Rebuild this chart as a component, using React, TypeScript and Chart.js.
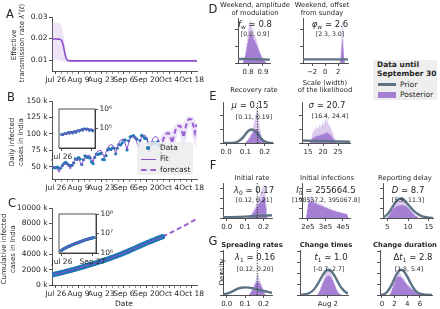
import React, { useEffect, useRef } from "react";
import { Chart, registerables } from "chart.js";

Chart.register(...registerables);

/* ====================== DATA ====================== */
// x values are days after 26 July 2020
const dateTickDays = [0, 14, 28, 42, 56, 70, 84];
const dateTickLabels = ["Jul 26", "Aug 9", "Aug 23", "Sep 6", "Sep 20", "Oct 4", "Oct 18"];
const firstDataDay = -2; // Jul 24
const forecastFirstDay = 66; // Sep 30

// Panel A: effective transmission rate
const lambdaDays = [-2.4, 0, 2, 3, 3.5, 4, 4.5, 5, 5.5, 6, 6.5, 7, 8, 10, 30, 60, 87.3];
const lambdaMedian = [0.0198, 0.0198, 0.0197, 0.0195, 0.0191, 0.0183, 0.017, 0.0152, 0.0133, 0.0117, 0.0106, 0.01, 0.0097, 0.0096, 0.0096, 0.0096, 0.0096];
const lambdaUpper = [0.0275, 0.0275, 0.0272, 0.0266, 0.0258, 0.0245, 0.0225, 0.02, 0.0172, 0.0146, 0.0127, 0.0114, 0.0105, 0.0102, 0.0101, 0.0101, 0.0101];
const lambdaLower = [0.0099, 0.0099, 0.0099, 0.0098, 0.0097, 0.0096, 0.0094, 0.0093, 0.0092, 0.0091, 0.009, 0.009, 0.009, 0.009, 0.0091, 0.0091, 0.0091];
const lambdaTicks = [0.01, 0.02, 0.03];

// Panel B: daily cases (thousands), Jul 24 .. Sep 30
const dailyCasesK = [49.3, 48.9, 48.7, 49.9, 47.7, 48.5, 52.1, 55.1, 57.1, 54.7, 53.0, 52.1, 52.5, 56.3, 62.5, 61.5, 64.4, 62.1, 53.6, 61.0, 67.0, 64.6, 65.0, 63.5, 58.0, 55.1, 64.5, 69.7, 68.9, 69.9, 70.5, 61.4, 61.0, 67.2, 75.8, 77.3, 76.5, 78.8, 78.5, 69.9, 78.4, 83.9, 83.3, 86.4, 90.6, 90.8, 75.8, 89.7, 95.7, 96.6, 97.6, 94.4, 92.1, 83.8, 90.1, 97.9, 96.4, 93.3, 92.6, 87.0, 75.1, 83.3, 86.5, 86.1, 85.4, 88.6, 82.2, 70.6, 80.5];
const dailyFitK = [49.4, 49.9, 49.4, 46.3, 42.0, 47.6, 51.8, 54.1, 54.8, 54.6, 51.3, 46.8, 53.2, 58.1, 60.9, 62.0, 61.8, 57.8, 52.4, 59.3, 64.5, 67.2, 68.0, 67.6, 63.3, 57.5, 65.2, 71.0, 74.1, 75.2, 74.8, 70.1, 63.8, 72.4, 78.9, 82.5, 83.8, 83.4, 78.0, 70.7, 80.1, 87.1, 90.8, 91.9, 91.2, 84.8, 76.5, 86.1, 93.0, 96.3, 96.7, 95.3, 88.2, 79.1, 88.5, 95.2, 98.1, 98.2, 95.3, 87.4, 77.8, 86.6, 92.8, 95.6, 95.8, 94.2, 87.4, 78.6, 88.4];
const dailyForecastK = [88.4, 95.9, 99.8, 101.3, 100.9, 94.5, 85.9, 97.4, 106.1, 110.8, 112.4, 111.8, 104.5, 94.8, 107.4, 116.8, 121.8, 122.9, 121.5, 113.1, 102.0, 115.0];
const dailyTicksK = [50, 75, 100, 125, 150];

// Panel C: cumulative cases (thousands), Jul 24 .. Sep 30
const cumulativeK = [1337, 1386, 1435, 1485, 1532, 1581, 1633, 1688, 1745, 1800, 1853, 1905, 1957, 2014, 2076, 2138, 2202, 2264, 2318, 2379, 2446, 2510, 2575, 2639, 2697, 2752, 2816, 2886, 2955, 3025, 3095, 3157, 3218, 3285, 3361, 3438, 3515, 3594, 3672, 3742, 3820, 3904, 3988, 4074, 4165, 4256, 4331, 4421, 4517, 4613, 4711, 4805, 4897, 4981, 5071, 5169, 5266, 5359, 5452, 5539, 5614, 5697, 5784, 5870, 5955, 6044, 6126, 6197, 6277];
const cumFitDays = [-2, 4, 11, 18, 25, 32, 39, 46, 53, 60, 66];
const cumFitK = [1337, 1633, 2014, 2446, 2886, 3361, 3904, 4517, 5169, 5784, 6277];
const cumForecastDays = [66, 69, 72, 75, 78, 81, 84, 87];
const cumForecastK = [6277, 6590, 6890, 7210, 7550, 7880, 8230, 8570];
const cumTicksK = [0, 2000, 4000, 6000, 8000, 10000];

// D: weekend amplitude f_w
const fwBinStart = 0.765, fwBinWidth = 0.005;
const fwLight = [0.04, 0.08, 0.13, 0.2, 0.3, 0.45, 0.6, 0.75, 0.9, 0.96, 0.85, 0.92, 0.8, 0.7, 0.75, 0.65, 0.6, 0.55, 0.5, 0.45, 0.4, 0.33, 0.28, 0.22, 0.18, 0.14, 0.11, 0.08, 0.06, 0.04, 0.02, 0.01];
const fwDark = [0.03, 0.06, 0.1, 0.17, 0.26, 0.36, 0.45, 0.53, 0.58, 0.62, 0.63, 0.62, 0.6, 0.57, 0.54, 0.51, 0.48, 0.44, 0.4, 0.36, 0.32, 0.28, 0.24, 0.2, 0.16, 0.13, 0.1, 0.07, 0.05, 0.04, 0.02, 0.01];
const fwPriorX = [0.733, 0.84, 0.947];
const fwPriorY = [0.09, 0.085, 0.075];
// D: weekend offset phi_w
const phiBinStart = 2.2, phiBinWidth = 0.05;
const phiLight = [0.02, 0.05, 0.1, 0.18, 0.3, 0.45, 0.62, 0.8, 0.96, 0.9, 0.75, 0.55, 0.35, 0.2, 0.1, 0.05, 0.02, 0.01];
const phiDark = [0.01, 0.03, 0.06, 0.1, 0.17, 0.25, 0.35, 0.45, 0.52, 0.5, 0.42, 0.32, 0.22, 0.13, 0.07, 0.03, 0.01, 0.005];
const phiPriorX = [-3.4, 3.5];
const phiPriorY = [0.08, 0.08];
// E: recovery rate mu
const muBinStart = 0.1, muBinWidth = 0.005;
const muLight = [0.03, 0.05, 0.08, 0.12, 0.16, 0.22, 0.28, 0.35, 0.45, 0.55, 0.7, 0.8, 0.75, 0.6, 0.45, 0.32, 0.2, 0.12, 0.07, 0.03];
const muDark = [0.02, 0.04, 0.06, 0.09, 0.12, 0.16, 0.2, 0.24, 0.28, 0.31, 0.33, 0.34, 0.33, 0.3, 0.26, 0.2, 0.14, 0.09, 0.05, 0.02];
const muPriorX = [-0.016, 0.03, 0.05, 0.07, 0.09, 0.1, 0.11, 0.12, 0.13, 0.14, 0.15, 0.16, 0.17, 0.18, 0.19, 0.2, 0.22, 0.243];
const muPriorY = [0, 0.003, 0.015, 0.06, 0.15, 0.21, 0.27, 0.31, 0.33, 0.32, 0.29, 0.24, 0.18, 0.12, 0.07, 0.04, 0.01, 0];
const muMarker = 0.163;
// E: likelihood scale sigma
const sigBinStart = 15.5, sigBinWidth = 0.25;
const sigLight = [0.03, 0.07, 0.13, 0.2, 0.26, 0.3, 0.34, 0.3, 0.36, 0.4, 0.38, 0.33, 0.4, 0.45, 0.42, 0.38, 0.46, 0.5, 0.44, 0.48, 0.55, 0.6, 0.5, 0.58, 0.52, 0.45, 0.42, 0.4, 0.36, 0.32, 0.27, 0.22, 0.17, 0.12, 0.08, 0.05, 0.03, 0.01];
const sigDark = [0.01, 0.03, 0.06, 0.09, 0.12, 0.13, 0.15, 0.14, 0.16, 0.17, 0.18, 0.17, 0.18, 0.19, 0.2, 0.19, 0.2, 0.22, 0.21, 0.23, 0.24, 0.25, 0.24, 0.26, 0.25, 0.23, 0.22, 0.2, 0.18, 0.16, 0.13, 0.11, 0.08, 0.06, 0.04, 0.02, 0.01, 0.005];
const sigPriorX = [13, 21, 29];
const sigPriorY = [0.06, 0.045, 0.03];
// F: initial rate lambda_0
const l0BinStart = 0.12, l0BinWidth = 0.005;
const l0Light = [0.04, 0.07, 0.1, 0.14, 0.2, 0.25, 0.3, 0.35, 0.42, 0.5, 0.55, 0.62, 0.7, 0.78, 0.85, 0.9, 0.95, 0.8, 0.4, 0.07];
const l0Dark = [0.03, 0.05, 0.08, 0.11, 0.15, 0.18, 0.22, 0.26, 0.3, 0.34, 0.38, 0.42, 0.46, 0.5, 0.55, 0.58, 0.6, 0.55, 0.3, 0.05];
const l0PriorX = [-0.02, 0.1, 0.245];
const l0PriorY = [0.02, 0.04, 0.08];
const l0Marker = 0.165;
// F: initial infections I_0 (units of 1e5)
const i0BinStart = 1.9, i0BinWidth = 0.05;
const i0Light = [0.15, 0.35, 0.55, 0.6, 0.65, 0.58, 0.62, 0.55, 0.5, 0.52, 0.48, 0.47, 0.45, 0.42, 0.44, 0.4, 0.39, 0.38, 0.37, 0.35, 0.36, 0.33, 0.32, 0.31, 0.3, 0.28, 0.29, 0.27, 0.25, 0.25, 0.24, 0.22, 0.23, 0.21, 0.2, 0.19, 0.2, 0.18, 0.17, 0.17, 0.16, 0.15, 0.15, 0.14, 0.14, 0.12, 0.11, 0.06];
const i0Dark = [0.1, 0.25, 0.4, 0.45, 0.46, 0.47, 0.46, 0.45, 0.44, 0.43, 0.42, 0.41, 0.4, 0.38, 0.37, 0.36, 0.35, 0.34, 0.33, 0.32, 0.31, 0.3, 0.29, 0.28, 0.27, 0.26, 0.25, 0.24, 0.23, 0.22, 0.21, 0.2, 0.2, 0.19, 0.18, 0.17, 0.17, 0.16, 0.15, 0.15, 0.14, 0.13, 0.13, 0.12, 0.12, 0.11, 0.1, 0.05];
// F: reporting delay D
const dBinStart = 5, dBinWidth = 0.25;
const dLight = [0.04, 0.08, 0.13, 0.2, 0.27, 0.33, 0.38, 0.42, 0.45, 0.5, 0.48, 0.52, 0.55, 0.5, 0.53, 0.48, 0.45, 0.43, 0.4, 0.37, 0.33, 0.29, 0.24, 0.2, 0.16, 0.12, 0.09, 0.07, 0.04, 0.02];
const dDark = [0.03, 0.06, 0.1, 0.15, 0.2, 0.25, 0.28, 0.3, 0.32, 0.34, 0.35, 0.36, 0.36, 0.37, 0.37, 0.36, 0.35, 0.34, 0.32, 0.3, 0.27, 0.24, 0.2, 0.17, 0.14, 0.11, 0.08, 0.06, 0.04, 0.02];
const dPriorX = [4, 4.5, 5, 5.5, 6, 6.5, 7, 7.5, 8, 8.5, 9, 9.5, 10, 10.5, 11, 11.5, 12, 13, 14, 15, 16];
const dPriorY = [0.02, 0.05, 0.1, 0.17, 0.26, 0.36, 0.45, 0.52, 0.55, 0.55, 0.52, 0.46, 0.39, 0.32, 0.25, 0.19, 0.14, 0.07, 0.03, 0.01, 0];
// G: spreading rate lambda_1
const l1BinStart = 0.12, l1BinWidth = 0.005;
const l1Light = [0.03, 0.05, 0.09, 0.13, 0.18, 0.23, 0.28, 0.33, 0.4, 0.48, 0.45, 0.36, 0.3, 0.24, 0.18, 0.12, 0.06, 0.03];
const l1Dark = [0.02, 0.04, 0.07, 0.1, 0.14, 0.18, 0.22, 0.26, 0.28, 0.3, 0.29, 0.27, 0.24, 0.2, 0.15, 0.1, 0.05, 0.02];
const l1PriorX = [-0.02, 0, 0.02, 0.04, 0.06, 0.08, 0.1, 0.12, 0.14, 0.16, 0.18, 0.2, 0.22, 0.245];
const l1PriorY = [0.01, 0.03, 0.06, 0.1, 0.14, 0.16, 0.17, 0.165, 0.15, 0.13, 0.11, 0.09, 0.07, 0.05];
const l1Marker = 0.165;
// G: change time t_1 (days from Aug 2)
const t1BinStart = -3.5, t1BinWidth = 0.25;
const t1Light = [0.03, 0.05, 0.09, 0.13, 0.18, 0.23, 0.28, 0.33, 0.38, 0.44, 0.48, 0.52, 0.55, 0.58, 0.56, 0.55, 0.52, 0.5, 0.46, 0.42, 0.37, 0.32, 0.27, 0.22, 0.18, 0.14, 0.1, 0.07, 0.05, 0.03, 0.02, 0.01];
const t1Dark = [0.02, 0.04, 0.07, 0.1, 0.14, 0.18, 0.22, 0.26, 0.3, 0.33, 0.36, 0.39, 0.41, 0.42, 0.43, 0.43, 0.42, 0.4, 0.38, 0.35, 0.32, 0.28, 0.24, 0.2, 0.16, 0.12, 0.09, 0.06, 0.04, 0.03, 0.02, 0.01];
const t1PriorX = [-9.3, -8, -7, -6, -5, -4, -3, -2, -1, 0, 1, 2, 3, 4, 5, 6, 6.7];
const t1PriorY = [0.002, 0.01, 0.025, 0.05, 0.1, 0.18, 0.29, 0.41, 0.51, 0.56, 0.54, 0.45, 0.33, 0.21, 0.12, 0.06, 0.035];
// G: change duration Delta t_1
const dtBinStart = 1.2, dtBinWidth = 0.2;
const dtLight = [0.04, 0.12, 0.22, 0.35, 0.48, 0.55, 0.5, 0.53, 0.47, 0.44, 0.4, 0.35, 0.3, 0.27, 0.23, 0.2, 0.17, 0.14, 0.12, 0.1, 0.08, 0.06, 0.04, 0.03, 0.01];
const dtDark = [0.03, 0.08, 0.15, 0.25, 0.33, 0.38, 0.4, 0.41, 0.4, 0.38, 0.35, 0.31, 0.27, 0.24, 0.21, 0.18, 0.15, 0.13, 0.11, 0.09, 0.07, 0.05, 0.04, 0.02, 0.01];
const dtPriorX = [-0.3, 0, 0.5, 1, 1.5, 2, 2.5, 3, 3.5, 4, 4.5, 5, 5.5, 6, 7, 7.9];
const dtPriorY = [0, 0.005, 0.03, 0.1, 0.22, 0.37, 0.5, 0.56, 0.52, 0.41, 0.27, 0.15, 0.07, 0.03, 0.005, 0];

/* ====================== STYLE ====================== */
const FONT = "'DejaVu Sans', sans-serif";
const INK = "#262626";
const PURPLE = "#8c4fc8";
const BLUE = "#1f77b4";
const PRIOR_C = "#5d7386";
const POST_DARK = "#a57fd4";
const POST_LIGHT = "#dbcaee";
const X_MIN = -2.4;
const X_MAX = 87.3;

const M_MAIN = { l: 52, t: 8, r: 16, b: 16 };
const M_INSET = { l: 22, t: 6, r: 18, b: 13 };
const M_HIST = { l: 5, t: 4, r: 10, b: 14 };

/* ====================== HELPERS ====================== */
const dayPts = (vals: number[], start: number, mult = 1) => vals.map((v, i) => ({ x: start + i, y: v * mult }));
const xyPts = (xs: number[], ys: number[]) => xs.map((x, i) => ({ x, y: ys[i] }));
const histPts = (start: number, w: number, hs: number[]) => {
  const p = hs.map((h, i) => ({ x: start + i * w, y: h }));
  p.push({ x: start + hs.length * w, y: 0 });
  return p;
};
const SUP: Record<number, string> = { 4: "\u2074", 5: "\u2075", 6: "\u2076", 7: "\u2077", 8: "\u2078" };

const gridStyle = (minorOf?: number[]) => ({
  display: true,
  drawOnChartArea: false,
  drawTicks: true,
  tickLength: 3,
  color: INK,
  tickColor: INK,
  lineWidth: (c: any) => (minorOf && c.tick && !minorOf.includes(c.tick.value) ? 0.5 : 0.8),
});
const borderStyle = { display: true, color: INK, width: 0.8 };

function fixedAxis(min: number, max: number, ticks: number[], fmt: (v: number) => string, size = 7.5, extra: any = {}) {
  return {
    type: "linear",
    min,
    max,
    afterBuildTicks: (s: any) => {
      s.ticks = ticks.map((v) => ({ value: v }));
    },
    ticks: { font: { family: FONT, size }, color: INK, padding: 1.5, autoSkip: false, maxRotation: 0, minRotation: 0, callback: (v: number) => fmt(v) },
    grid: gridStyle(),
    border: borderStyle,
    ...extra,
  };
}

function dateAxis() {
  const all: number[] = [];
  for (let d = 0; d <= X_MAX; d += 3.5) all.push(d);
  return {
    type: "linear",
    min: X_MIN,
    max: X_MAX,
    afterBuildTicks: (s: any) => {
      s.ticks = all.map((v) => ({ value: v }));
    },
    ticks: {
      font: { family: FONT, size: 7.5 },
      color: INK,
      padding: 1.5,
      autoSkip: false,
      maxRotation: 0,
      minRotation: 0,
      callback: (v: number) => {
        const i = dateTickDays.indexOf(v);
        return i >= 0 ? dateTickLabels[i] : "";
      },
    },
    grid: gridStyle(dateTickDays),
    border: borderStyle,
  };
}

const insetFrame = {
  id: "insetFrame",
  beforeDraw(chart: any) {
    const { ctx, chartArea: a } = chart;
    ctx.save();
    ctx.fillStyle = "#ffffff";
    ctx.fillRect(a.left, a.top, a.right - a.left, a.bottom - a.top);
    ctx.restore();
  },
  afterDraw(chart: any) {
    const { ctx, chartArea: a } = chart;
    ctx.save();
    ctx.strokeStyle = INK;
    ctx.lineWidth = 0.8;
    ctx.strokeRect(a.left, a.top, a.right - a.left, a.bottom - a.top);
    ctx.restore();
  },
};

function Plot({ px, py, pw, ph, m, yRight = false, make }: any) {
  const ref = useRef<HTMLCanvasElement>(null);
  useEffect(() => {
    const cfg: any = make();
    const zero = (s: any) => {
      s.paddingLeft = 0;
      s.paddingRight = 0;
      s.paddingTop = 0;
      s.paddingBottom = 0;
    };
    cfg.options.scales.x.afterFit = (s: any) => {
      s.height = m.b;
      zero(s);
    };
    cfg.options.scales.y.afterFit = (s: any) => {
      s.width = yRight ? m.r : m.l;
      zero(s);
    };
    cfg.options.layout = {
      autoPadding: false,
      padding: yRight ? { left: m.l, right: 0, top: m.t, bottom: 0 } : { left: 0, right: m.r, top: m.t, bottom: 0 },
    };
    cfg.options.responsive = false;
    cfg.options.animation = false;
    cfg.options.events = [];
    cfg.options.plugins = { ...(cfg.options.plugins || {}), legend: { display: false }, tooltip: { enabled: false } };
    const chart = new Chart(ref.current as HTMLCanvasElement, cfg);
    return () => chart.destroy();
  }, []);
  return (
    <canvas
      ref={ref}
      width={pw + m.l + m.r}
      height={ph + m.t + m.b}
      style={{ position: "absolute", left: px - m.l, top: py - m.t, width: pw + m.l + m.r, height: ph + m.t + m.b }}
    />
  );
}

/* ====================== CHART CONFIGS ====================== */
const line = (data: any[], color: string, width: number, extra: any = {}) => ({
  data,
  borderColor: color,
  borderWidth: width,
  pointRadius: 0,
  fill: false,
  ...extra,
});
const dots = (data: any[], r: number, extra: any = {}) => ({
  data,
  showLine: false,
  pointRadius: r,
  pointBorderWidth: 0,
  pointBackgroundColor: BLUE,
  borderColor: BLUE,
  ...extra,
});

const makeA = () => ({
  type: "line",
  data: {
    datasets: [
      line(xyPts(lambdaDays, lambdaMedian), PURPLE, 1.6, { cubicInterpolationMode: "monotone", order: 0 }),
      line(xyPts(lambdaDays, lambdaUpper), "rgba(0,0,0,0)", 0, { fill: "+1", backgroundColor: "rgba(165,120,215,0.2)", cubicInterpolationMode: "monotone", order: 1 }),
      line(xyPts(lambdaDays, lambdaLower), "rgba(0,0,0,0)", 0, { cubicInterpolationMode: "monotone", order: 2 }),
    ],
  },
  options: { scales: { x: dateAxis(), y: fixedAxis(0.0049, 0.03, lambdaTicks, (v) => v.toFixed(2)) } },
});

const makeB = () => ({
  type: "line",
  data: {
    datasets: [
      line(dayPts(dailyFitK, firstDataDay), PURPLE, 1, { order: 1 }),
      dots(dayPts(dailyCasesK, firstDataDay), 1.6, { order: 2 }),
      line(dayPts(dailyForecastK, forecastFirstDay), "rgba(160,110,215,0.18)", 6, { order: 4 }),
      line(dayPts(dailyForecastK, forecastFirstDay), "#9a5fd3", 2, { borderDash: [5, 3], order: 3 }),
    ],
  },
  options: { scales: { x: dateAxis(), y: fixedAxis(31.8, 150, dailyTicksK, (v) => `${v} k`) } },
});

const makeC = () => ({
  type: "line",
  data: {
    datasets: [
      line(xyPts(cumFitDays, cumFitK), PURPLE, 1, { order: 1 }),
      dots(dayPts(cumulativeK, firstDataDay), 2.6, { order: 2 }),
      line(xyPts(cumForecastDays, cumForecastK), "#9a5fd3", 2, { borderDash: [5, 3], order: 3 }),
    ],
  },
  options: { scales: { x: dateAxis(), y: fixedAxis(0, 10000, cumTicksK, (v) => `${v} k`) } },
});

const insetX = (labels: string[]) => fixedAxis(-6, 70, [0, 63], (v) => labels[[0, 63].indexOf(v)] || "", 7.5);
const logY = (min: number, max: number, ticks: number[]) => ({
  type: "logarithmic",
  position: "right",
  min,
  max,
  afterBuildTicks: (s: any) => {
    s.ticks = ticks.map((v) => ({ value: v }));
  },
  ticks: { font: { family: FONT, size: 7.5 }, color: INK, padding: 1.5, autoSkip: false, callback: (v: number) => `10${SUP[Math.round(Math.log10(v))]}` },
  grid: gridStyle(),
  border: borderStyle,
});

const makeBInset = () => ({
  type: "line",
  data: {
    datasets: [
      line(dayPts(dailyFitK, firstDataDay, 1000), PURPLE, 0.9, { order: 1 }),
      dots(dayPts(dailyCasesK, firstDataDay, 1000), 1.1, { order: 2 }),
    ],
  },
  options: { scales: { x: insetX(["Jul 26", ""]), y: logY(1e4, 1e6, [1e5, 1e6]) } },
  plugins: [insetFrame],
});

const makeCInset = () => ({
  type: "line",
  data: {
    datasets: [
      line(xyPts(cumFitDays, cumFitK.map((v) => v * 1000)), PURPLE, 1, { order: 1 }),
      dots(dayPts(cumulativeK, firstDataDay, 1000), 1.5, { order: 2 }),
    ],
  },
  options: { scales: { x: insetX(["Jul 26", "Sep 27"]), y: logY(1e6, 1e8, [1e6, 1e7, 1e8]) } },
  plugins: [insetFrame],
});

function makeHist(h: any) {
  return () => {
    const ds: any[] = [
      { data: histPts(h.start, h.w, h.light), stepped: "before", fill: "origin", backgroundColor: POST_LIGHT, borderWidth: 0, borderColor: "rgba(0,0,0,0)", pointRadius: 0, order: 4 },
      { data: histPts(h.start, h.w, h.dark), stepped: "before", fill: "origin", backgroundColor: POST_DARK, borderWidth: 0, borderColor: "rgba(0,0,0,0)", pointRadius: 0, order: 3 },
    ];
    if (h.px) ds.push(line(xyPts(h.px, h.py), PRIOR_C, 2.4, { cubicInterpolationMode: "monotone", order: 1 }));
    if (h.marker !== undefined)
      ds.push(line([{ x: h.marker, y: 0 }, { x: h.marker, y: 1 }], "#111", 1, { borderDash: [1, 1.6], order: 0 }));
    const yt: number[] = [];
    for (let v = 0; v <= 1.0001; v += h.yStep) yt.push(v);
    return {
      type: "line",
      data: { datasets: ds },
      options: {
        scales: {
          x: fixedAxis(h.xMin, h.xMax, h.ticks, (v) => h.labels[h.ticks.indexOf(v)] ?? "", 7),
          y: { ...fixedAxis(0, 1, yt, () => ""), ticks: { display: false } },
        },
      },
    };
  };
}

const histSpecs: any[] = [
  { key: "fw", rect: { px: 238, py: 18, pw: 32, ph: 45 }, xMin: 0.733, xMax: 0.947, ticks: [0.8, 0.9], labels: ["0.8", "0.9"], yStep: 0.37, start: fwBinStart, w: fwBinWidth, light: fwLight, dark: fwDark, px: fwPriorX, py: fwPriorY },
  { key: "phi", rect: { px: 303, py: 18, pw: 45, ph: 45 }, xMin: -3.4, xMax: 3.5, ticks: [-2, 0, 2], labels: ["\u22122", "0", "2"], yStep: 0.37, start: phiBinStart, w: phiBinWidth, light: phiLight, dark: phiDark, px: phiPriorX, py: phiPriorY },
  { key: "mu", rect: { px: 223, py: 102, pw: 50, ph: 41 }, xMin: -0.016, xMax: 0.243, ticks: [0, 0.1, 0.2], labels: ["0.0", "0.1", "0.2"], yStep: 0.34, start: muBinStart, w: muBinWidth, light: muLight, dark: muDark, px: muPriorX, py: muPriorY, marker: muMarker },
  { key: "sig", rect: { px: 302, py: 102, pw: 48, ph: 41 }, xMin: 13, xMax: 29, ticks: [15, 20, 25], labels: ["15", "20", "25"], yStep: 0.34, start: sigBinStart, w: sigBinWidth, light: sigLight, dark: sigDark, px: sigPriorX, py: sigPriorY },
  { key: "l0", rect: { px: 223, py: 183, pw: 49, ph: 35 }, xMin: -0.02, xMax: 0.245, ticks: [0, 0.1, 0.2], labels: ["0.0", "0.1", "0.2"], yStep: 0.28, start: l0BinStart, w: l0BinWidth, light: l0Light, dark: l0Dark, px: l0PriorX, py: l0PriorY, marker: l0Marker },
  { key: "i0", rect: { px: 302, py: 183, pw: 48, ph: 35 }, xMin: 1.66, xMax: 4.4, ticks: [2, 3, 4], labels: ["2e5", "3e5", "4e5"], yStep: 0.28, start: i0BinStart, w: i0BinWidth, light: i0Light, dark: i0Dark },
  { key: "d", rect: { px: 383, py: 183, pw: 50, ph: 35 }, xMin: 4, xMax: 16, ticks: [5, 10, 15], labels: ["5", "10", "15"], yStep: 0.28, start: dBinStart, w: dBinWidth, light: dLight, dark: dDark, px: dPriorX, py: dPriorY },
  { key: "l1", rect: { px: 223, py: 250, pw: 49, ph: 45 }, xMin: -0.02, xMax: 0.245, ticks: [0, 0.1, 0.2], labels: ["0.0", "0.1", "0.2"], yStep: 0.24, start: l1BinStart, w: l1BinWidth, light: l1Light, dark: l1Dark, px: l1PriorX, py: l1PriorY, marker: l1Marker },
  { key: "t1", rect: { px: 300, py: 250, pw: 48, ph: 45 }, xMin: -9.3, xMax: 6.7, ticks: [0], labels: ["Aug 2"], yStep: 0.24, start: t1BinStart, w: t1BinWidth, light: t1Light, dark: t1Dark, px: t1PriorX, py: t1PriorY },
  { key: "dt", rect: { px: 380, py: 250, pw: 52, ph: 45 }, xMin: -0.3, xMax: 7.9, ticks: [0, 2, 4, 6], labels: ["0", "2", "4", "6"], yStep: 0.24, start: dtBinStart, w: dtBinWidth, light: dtLight, dark: dtDark, px: dtPriorX, py: dtPriorY },
];

/* ====================== TEXT ====================== */
const baseText: any = { position: "absolute", fontFamily: FONT, color: INK, whiteSpace: "nowrap", lineHeight: 1 };
function Txt({ x, y, s = 7, b = false, rot = false, left = false, children }: any) {
  return (
    <div
      style={{
        ...baseText,
        left: x,
        top: y,
        fontSize: s,
        fontWeight: b ? "bold" : "normal",
        transform: `translate(${left ? "0" : "-50%"},-50%)${rot ? " rotate(-90deg)" : ""}`,
      }}
    >
      {children}
    </div>
  );
}
const Sub = ({ children }: any) => <span style={{ fontSize: "0.7em", position: "relative", top: "0.3em" }}>{children}</span>;
const Ann = ({ x, y, yb, cx2, f, br }: any) => (
  <>
    <Txt x={x} y={y} s={8.5}>{f}</Txt>
    <Txt x={cx2 ?? x} y={yb} s={6.2}>{br}</Txt>
  </>
);

export default function App() {
  return (
    <div style={{ position: "absolute", left: 0, top: 0, width: 440, height: 309, background: "#fff", overflow: "hidden" }}>
      <Plot px={52} py={17} pw={145} ph={54} m={M_MAIN} make={makeA} />
      <Plot px={52} py={101} pw={145} ph={78} m={M_MAIN} make={makeB} />
      <Plot px={52} py={208} pw={145} ph={77} m={M_MAIN} make={makeC} />
      <Plot px={59} py={109} pw={36} ph={39} m={M_INSET} yRight make={makeBInset} />
      <Plot px={59} py={214} pw={37} ph={39} m={M_INSET} yRight make={makeCInset} />
      {histSpecs.map((h) => (
        <Plot key={h.key} {...h.rect} m={M_HIST} make={makeHist(h)} />
      ))}

      {/* panel letters */}
      <Txt x={10} y={15} s={11.5}>A</Txt>
      <Txt x={11} y={98} s={11.5}>B</Txt>
      <Txt x={12} y={204} s={11.5}>C</Txt>
      <Txt x={213} y={10} s={11.5}>D</Txt>
      <Txt x={213} y={97} s={11.5}>E</Txt>
      <Txt x={213} y={166} s={11.5}>F</Txt>
      <Txt x={213} y={242} s={11.5}>G</Txt>

      {/* axis titles */}
      <Txt x={14} y={45} rot>Effective</Txt>
      <Txt x={22} y={43} rot>
        transmission rate <i>λ</i>
        <span style={{ fontSize: "0.75em", position: "relative", top: "-0.4em" }}>*</span>(<i>t</i>)
      </Txt>
      <Txt x={12} y={142} rot>Daily infected</Txt>
      <Txt x={20.5} y={142} rot>cases in India</Txt>
      <Txt x={4} y={249} rot>Cumulative infected</Txt>
      <Txt x={12.5} y={249} rot>cases in India</Txt>
      <Txt x={124} y={304} s={7.5}>Date</Txt>
      <Txt x={222} y={272} rot>Density</Txt>

      {/* B legend */}
      <div style={{ position: "absolute", left: 137, top: 142, width: 56, height: 33, background: "rgba(236,236,236,0.85)", borderRadius: 3 }} />
      <div style={{ position: "absolute", left: 146.2, top: 146.2, width: 3.6, height: 3.6, borderRadius: "50%", background: BLUE }} />
      <div style={{ position: "absolute", left: 141, top: 158.5, width: 15, height: 1, background: PURPLE }} />
      <div style={{ position: "absolute", left: 141, top: 169, width: 15, height: 0, borderTop: "2px dashed #9a5fd3" }} />
      <Txt x={160} y={148} s={7.5} left>Data</Txt>
      <Txt x={160} y={159} s={7.5} left>Fit</Txt>
      <Txt x={160} y={170} s={7.5} left>forecast</Txt>

      {/* right legend */}
      <div style={{ position: "absolute", left: 373, top: 60, width: 64, height: 40, background: "rgba(236,236,236,0.9)", borderRadius: 3 }} />
      <Txt x={377} y={65} s={7.5} b left>Data until</Txt>
      <Txt x={377} y={74} s={7.5} b left>September 30</Txt>
      <div style={{ position: "absolute", left: 378, top: 83, width: 18, height: 3, background: PRIOR_C }} />
      <div style={{ position: "absolute", left: 378, top: 92, width: 18, height: 5.5, background: POST_DARK }} />
      <Txt x={400} y={84.5} s={7.5} left>Prior</Txt>
      <Txt x={400} y={95} s={7.5} left>Posterior</Txt>

      {/* histogram titles */}
      <Txt x={255} y={5} s={6.8}>Weekend, amplitude</Txt>
      <Txt x={255} y={13} s={6.8}>of modulation</Txt>
      <Txt x={322} y={5} s={6.8}>Weekend, offset</Txt>
      <Txt x={322} y={13} s={6.8}>from sunday</Txt>
      <Txt x={254} y={90} s={6.8}>Recovery rate</Txt>
      <Txt x={325} y={83} s={6.8}>Scale (width)</Txt>
      <Txt x={325} y={90} s={6.8}>of the likelihood</Txt>
      <Txt x={252} y={178} s={6.8}>Initial rate</Txt>
      <Txt x={327} y={178} s={6.8}>Initial infections</Txt>
      <Txt x={405} y={178} s={6.8}>Reporting delay</Txt>
      <Txt x={252} y={245} s={6.8} b>Spreading rates</Txt>
      <Txt x={326} y={245} s={6.8} b>Change times</Txt>
      <Txt x={405} y={245} s={6.8} b>Change duration</Txt>

      {/* posterior annotations */}
      <Ann x={255} y={24} yb={34} f={<><i>f</i><Sub><i>w</i></Sub> ≃ 0.8</>} br="[0.8, 0.9]" />
      <Ann x={330} y={24} yb={34} f={<><i>φ</i><Sub><i>w</i></Sub> ≃ 2.6</>} br="[2.3, 3.0]" />
      <Ann x={250} y={105} yb={117} cx2={254} f={<><i>μ</i> ≃ 0.15</>} br="[0.11, 0.19]" />
      <Ann x={327} y={105} yb={116} cx2={330} f={<><i>σ</i> ≃ 20.7</>} br="[16.4, 24.4]" />
      <Ann x={254} y={190} yb={200} f={<><i>λ</i><Sub>0</Sub> ≃ 0.17</>} br="[0.12, 0.21]" />
      <Ann x={326} y={190} yb={200} f={<><i>I</i><Sub>0</Sub> ≃ 255664.5</>} br="[198537.2, 395067.8]" />
      <Ann x={408} y={190} yb={200} f={<><i>D</i> ≃ 8.7</>} br="[5.9, 11.3]" />
      <Ann x={255} y={257} yb={269} f={<><i>λ</i><Sub>1</Sub> ≃ 0.16</>} br="[0.12, 0.20]" />
      <Ann x={331} y={257} yb={269} cx2={329} f={<><i>t</i><Sub>1</Sub> ≃ 1.0</>} br="[-0.7, 2.7]" />
      <Ann x={413} y={257} yb={269} cx2={409} f={<>Δ<i>t</i><Sub>1</Sub> ≃ 2.8</>} br="[1.8, 5.4]" />
    </div>
  );
}
